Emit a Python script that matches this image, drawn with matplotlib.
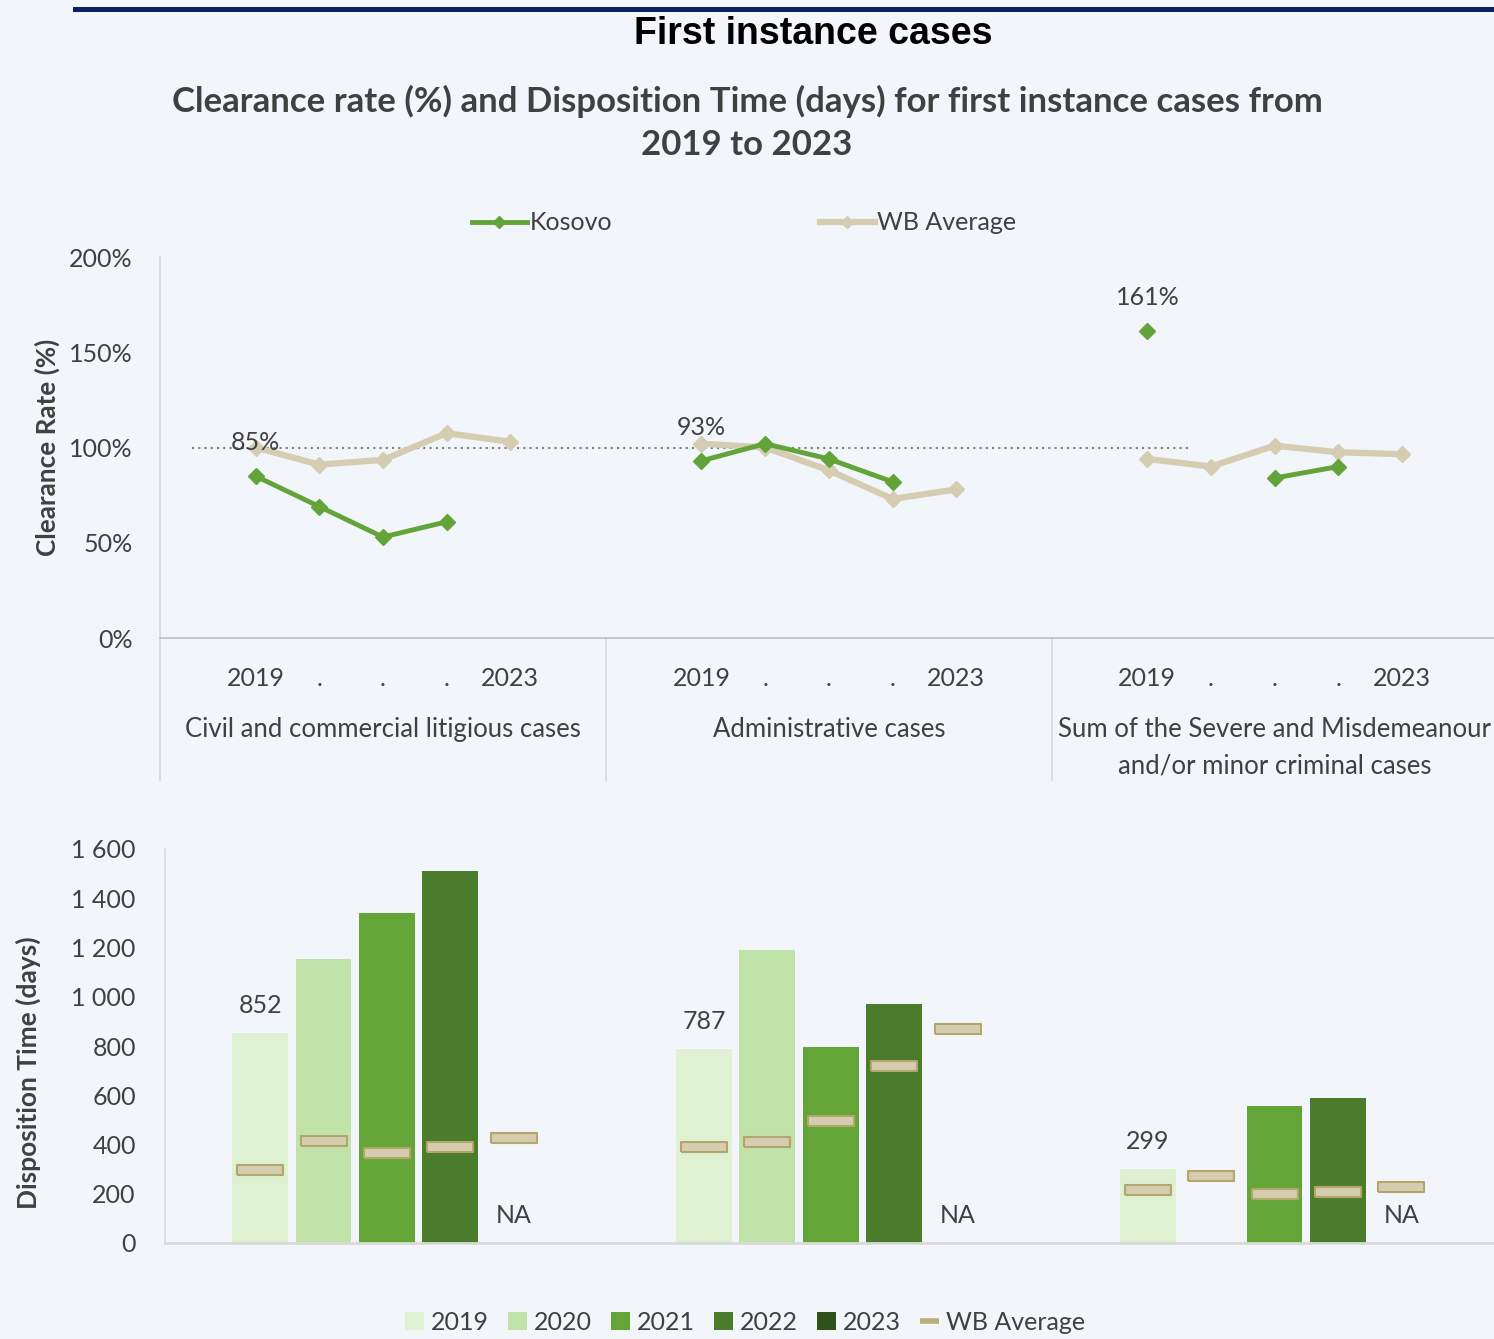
import numpy as np
import matplotlib
matplotlib.use("Agg")
import matplotlib.pyplot as plt
from matplotlib.lines import Line2D
from matplotlib.patches import Patch, Rectangle
import matplotlib.transforms as mtransforms

nan = np.nan
categories = ["Civil and commercial litigious cases", "Administrative cases",
              "Sum of the Severe and Misdemeanour\nand/or minor criminal cases"]
years = ["2019", "2020", "2021", "2022", "2023"]
year_ticks = ["2019", ".", ".", ".", "2023"]

kosovo_cr = [[85, 69, 53, 61, nan], [93, 102, 94, 82, nan], [161, nan, 84, 90, nan]]
wb_cr = [[100, 91, 93.5, 107.5, 103], [102, 100, 88, 73, 78], [94, 90, 101, 97.5, 96.5]]
kosovo_dt = [[852, 1152, 1341, 1512, nan], [787, 1191, 797, 969, nan], [299, nan, 557, 587, nan]]
wb_dt = [[296, 414, 364, 388, 428], [391, 411, 495, 719, 870], [215, 273, 200, 208, 227]]
cr_ticks = [0, 50, 100, 150, 200]
dt_ticks = [0, 200, 400, 600, 800, 1000, 1200, 1400, 1600]

BG = "#F2F5FA"
TXT = "#404040"
GREEN = "#62A33A"
TAN = "#D4CDB1"
bar_colors = ["#DFF1D3", "#C1E3A9", "#64A537", "#4B7C2B", "#2F5219"]
FONT = "Lato"
FS = 18

plt.rcParams["font.family"] = [FONT, "DejaVu Sans"]
plt.rcParams["text.color"] = TXT
plt.rcParams["axes.labelcolor"] = TXT
plt.rcParams["xtick.color"] = TXT
plt.rcParams["ytick.color"] = TXT

W, H = 1494, 1339
fig = plt.figure(figsize=(W / 100, H / 100), dpi=100, facecolor=BG)

def fx(px):
    return px / W

def fy(py):
    return 1 - py / H

# header bar
fig.add_artist(Rectangle((fx(73), fy(12)), 1 - fx(73), 5 / H, transform=fig.transFigure,
                         facecolor="#0B2260", edgecolor="none"))
fig.text(fx(813), fy(34), "First instance cases", ha="center", va="center",
         fontsize=27, fontweight="bold", family="Liberation Sans", color="black")
fig.text(fx(747), fy(123), "Clearance rate (%) and Disposition Time (days) for first instance cases from\n2019 to 2023",
         ha="center", va="center", fontsize=25, fontweight="bold", color=TXT, linespacing=1.45)

ngroups = len(categories)
nslot = len(years) + 2

def slots(g):
    return [g * nslot + 1 + j for j in range(len(years))]

# ---------- upper chart ----------
w1 = 21 * 63.7
ax1 = fig.add_axes([fx(160), fy(638), w1 / W, (638 - 257) / H])
ax1.set_facecolor(BG)
ax1.set_xlim(-0.5, ngroups * nslot - 0.5)
ax1.set_ylim(0, 200)
for s in ["top", "right"]:
    ax1.spines[s].set_visible(False)
ax1.spines["left"].set_color("#D9D9D9")
ax1.spines["bottom"].set_color("#BFBFBF")
ax1.spines["left"].set_linewidth(1.2)
ax1.spines["bottom"].set_linewidth(1.2)
ax1.set_yticks(cr_ticks)
ax1.set_yticklabels([f"{v}%" for v in cr_ticks])
ax1.tick_params(axis="y", length=0, pad=19.5, labelsize=FS)
xt = []
xl = []
for g in range(ngroups):
    xt += slots(g)
    xl += year_ticks
ax1.set_xticks(xt)
ax1.set_xticklabels(xl)
ax1.tick_params(axis="x", length=0, pad=21, labelsize=FS)

ax1.hlines(100, 0, 15.7, colors="#7F7F7F", linestyles=(0, (1, 2)), linewidth=1.5, zorder=1)

for g in range(ngroups):
    x = slots(g)
    ax1.plot(x, wb_cr[g], color=TAN, lw=4.5, marker="D", ms=8, zorder=2)
    ax1.plot(x, kosovo_cr[g], color=GREEN, lw=3.5, marker="D", ms=8, zorder=3)
    ax1.annotate(f"{kosovo_cr[g][0]:.0f}%", (x[0], kosovo_cr[g][0]), xytext=(0, 24),
                 textcoords="offset points", ha="center", va="center", fontsize=FS, color=TXT)

tr = mtransforms.blended_transform_factory(ax1.transData, ax1.transAxes)
for g in range(ngroups):
    ax1.plot([g * nslot - 0.5] * 2, [0, -0.372], transform=tr, color="#D9D9D9", lw=1.2, clip_on=False)
    ax1.text(g * nslot + (nslot - 1) / 2, -0.208, categories[g], transform=tr, ha="center", va="top",
             fontsize=18.5, color=TXT, linespacing=1.55)
ax1.set_ylabel("Clearance Rate (%)", fontsize=18.8, fontweight="bold")
ax1.yaxis.set_label_coords((60 - 160) / w1, 0.5)

fig.legend(handles=[Line2D([], [], color=GREEN, lw=3.5, marker="D", ms=6),
                    Line2D([], [], color=TAN, lw=4.5, marker="D", ms=6)],
           labels=["Kosovo", "WB Average"], loc="center", bbox_to_anchor=(fx(744), fy(223)),
           ncol=2, frameon=False, fontsize=FS, handlelength=2.2, columnspacing=8.3,
           handletextpad=0.1)

# ---------- lower chart ----------
w2 = 21 * 63.4
ax2 = fig.add_axes([fx(165), fy(1243), w2 / W, (1243 - 849) / H])
ax2.set_facecolor(BG)
ax2.set_xlim(-0.5, ngroups * nslot - 0.5)
ax2.set_ylim(0, 1600)
for s in ["top", "right"]:
    ax2.spines[s].set_visible(False)
ax2.spines["left"].set_color("#D9D9D9")
ax2.spines["bottom"].set_color("#D9D9D9")
ax2.spines["left"].set_linewidth(1.2)
ax2.spines["bottom"].set_linewidth(2)
ax2.set_yticks(dt_ticks)
ax2.set_yticklabels([f"{v:,}".replace(",", " ") for v in dt_ticks])
ax2.tick_params(axis="y", length=0, pad=21, labelsize=FS)
ax2.set_xticks([])

rect_marker = [(-2.5, -0.5), (2.5, -0.5), (2.5, 0.5), (-2.5, 0.5), (-2.5, -0.5)]
for g in range(ngroups):
    x = slots(g)
    for j in range(len(years)):
        v = kosovo_dt[g][j]
        if np.isnan(v):
            if j == len(years) - 1:
                ax2.annotate("NA", (x[j], 0), xytext=(0, 19.5), textcoords="offset points",
                             ha="center", va="center", fontsize=FS, color=TXT)
            continue
        ax2.bar(x[j], v, width=0.88, color=bar_colors[j], edgecolor="none", zorder=2)
    ax2.plot(x, wb_dt[g], linestyle="none", marker=rect_marker, ms=33, mfc="#D6CDB0",
             mec="#B2A66C", mew=1.5, zorder=3)
    ax2.annotate(f"{kosovo_dt[g][0]:.0f}", (x[0], kosovo_dt[g][0]), xytext=(0, 20),
                 textcoords="offset points", ha="center", va="center", fontsize=FS, color=TXT)

ax2.set_ylabel("Disposition Time (days)", fontsize=19, fontweight="bold")
ax2.yaxis.set_label_coords((41 - 165) / w2, (1243 - 1073) / 394)

handles = [Patch(facecolor=c, edgecolor="none") for c in bar_colors]
handles.append(Line2D([], [], color="#B9AE7A", lw=4, solid_capstyle="butt"))
fig.legend(handles=handles, labels=years + ["WB Average"], loc="center",
           bbox_to_anchor=(fx(745), fy(1322)), ncol=6, frameon=False, fontsize=FS,
           handlelength=0.75, handleheight=0.75, handletextpad=0.3, columnspacing=0.75)

fig.savefig("out.png", dpi=100, facecolor=BG)
